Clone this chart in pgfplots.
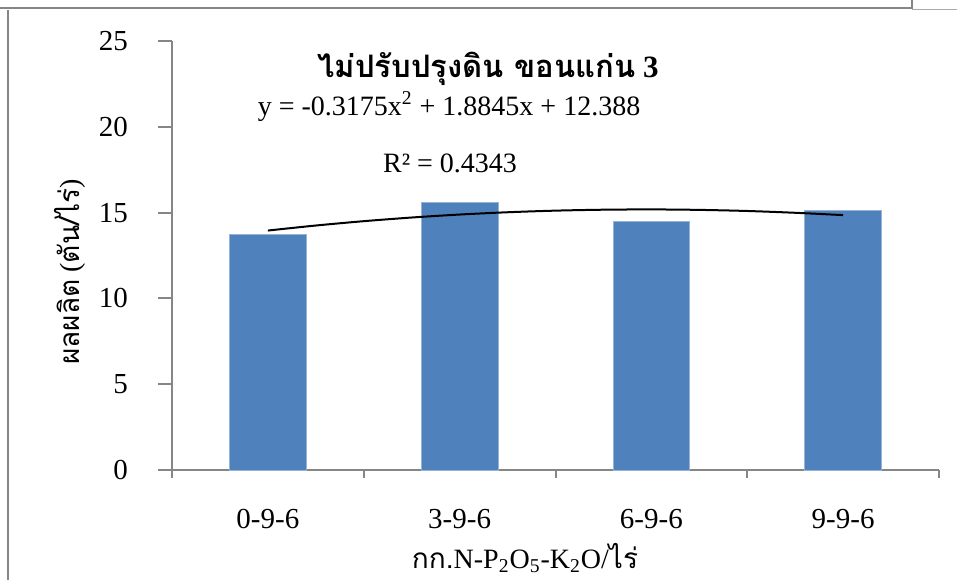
\documentclass[border=0pt]{standalone}
\usepackage{fontspec}
\setmainfont{Liberation Serif}
\newfontfamily\thaifont[Script=Thai]{Loma}
\usepackage{pgfplots}
\pgfplotsset{compat=1.18}
\definecolor{barblue}{HTML}{4F81BD}
\definecolor{axgray}{HTML}{868686}
\begin{document}
\begin{tikzpicture}
\path[use as bounding box] (0,0) rectangle (478.5pt,-290pt);
% frames
\draw[axgray,line width=1pt] (0,-4pt) -- (456pt,-4pt) -- (456pt,0);
\draw[axgray!70,line width=0.6pt] (456pt,-4.8pt) -- (478.5pt,-4.8pt);
\draw[axgray,line width=1pt] (4pt,-5pt) -- (4pt,-290pt);
\begin{axis}[
  at={(86pt,-235pt)}, anchor=south west,
  scale only axis, width=383.5pt, height=214.5pt,
  xmin=0.5, xmax=4.5, ymin=0, ymax=25,
  axis x line*=bottom, axis y line*=left,
  axis line style={axgray, line width=1pt},
  xtick={1,2,3,4},
  xticklabels={0-9-6,3-9-6,6-9-6,9-9-6},
  minor xtick={0.5,1.5,2.5,3.5,4.5},
  ytick={0,5,10,15,20,25},
  tick align=outside,
  x tick style={draw=none},
  minor x tick style={draw=axgray, line width=1pt},
  minor tick length=4pt,
  y tick style={axgray, line width=1pt},
  major tick length=7pt,
  tick label style={font=\fontsize{14.5}{16}\selectfont},
  /pgf/number format/assume math mode=true,
  yticklabel style={xshift=-11.5pt},
  xticklabel style={yshift=-9pt},
  clip=false,
]
\addplot[ybar, bar width=0.4, fill=barblue, draw=barblue!60!white, line width=0.4pt]
  coordinates {(1,13.75) (2,15.6) (3,14.5) (4,15.1)};
\addplot[black, line width=1pt, smooth] coordinates {
  (1,13.955) (1.25,14.248) (1.5,14.501) (1.75,14.714) (2,14.888)
  (2.25,15.021) (2.5,15.115) (2.75,15.169) (3,15.186) (3.25,15.159)
  (3.5,15.095) (3.75,14.990) (4,14.854)};
\end{axis}
% title and annotations
\node[anchor=base] at (244pt,-38.5pt) {\fontsize{15.5}{18}\selectfont{\thaifont\bfseries ไม่ปรับปรุงดิน ขอนแก่น} \textbf{3}};
\node[anchor=base] at (224.5pt,-57.5pt) {\fontsize{14}{16}\selectfont y = -0.3175x\textsuperscript{2} + 1.8845x + 12.388};
\node[anchor=base] at (225pt,-86pt) {\fontsize{14}{16}\selectfont R² = 0.4343};
\node[rotate=90] at (35pt,-136pt) {\fontsize{14}{16}\selectfont{\thaifont ผลผลิต} ({\thaifont ตัน/ไร่})};
\node[anchor=base] at (262.5pt,-284pt) {\fontsize{14}{16}\selectfont{\thaifont กก.}N-P\textsubscript{2}O\textsubscript{5}-K\textsubscript{2}O/{\thaifont ไร่}};
\end{tikzpicture}
\end{document}
